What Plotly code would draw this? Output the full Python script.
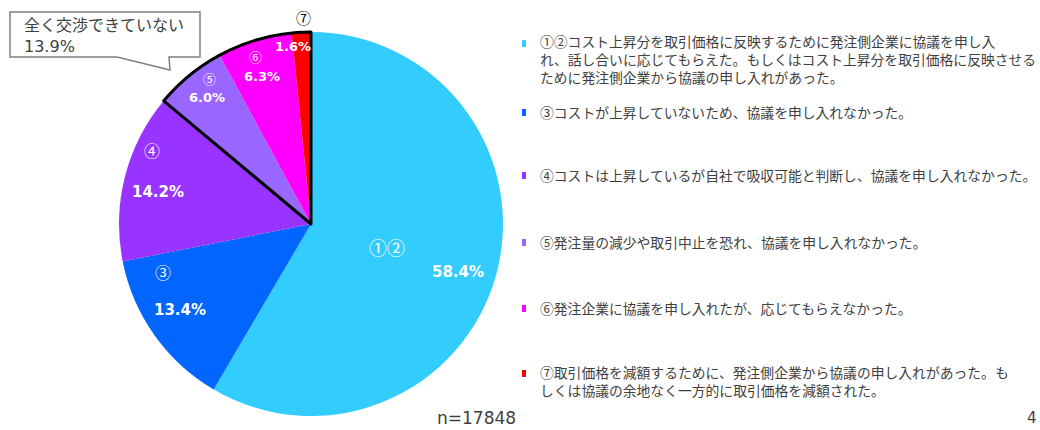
import plotly.graph_objects as go

# ---- data -------------------------------------------------------------
categories = ["①②", "③", "④", "⑤", "⑥", "⑦"]
shares = [58.4, 13.4, 14.2, 6.0, 6.3, 1.6]
legend_texts = [
    ["①②コスト上昇分を取引価格に反映するために発注側企業に協議を申し入",
     "れ、話し合いに応じてもらえた。もしくはコスト上昇分を取引価格に反映させる",
     "ために発注側企業から協議の申し入れがあった。"],
    ["③コストが上昇していないため、協議を申し入れなかった。"],
    ["④コストは上昇しているが自社で吸収可能と判断し、協議を申し入れなかった。"],
    ["⑤発注量の減少や取引中止を恐れ、協議を申し入れなかった。"],
    ["⑥発注企業に協議を申し入れたが、応じてもらえなかった。"],
    ["⑦取引価格を減額するために、発注側企業から協議の申し入れがあった。も",
     "しくは協議の余地なく一方的に取引価格を減額された。"],
]
no_negotiation_title = "全く交渉できていない"
no_negotiation_idx = [3, 4, 5]
sample_size = 17848
page_number = "4"

# ---- style --------------------------------------------------------------
W, H = 1040, 430
colors = ["#33CCFF", "#0066FF", "#9933FF", "#9966FF", "#FF00FF", "#FF0000"]
TEXT = "#404040"
JP = "DejaVu Sans, Noto Sans CJK JP"
CX, CY, R = 311, 224, 192          # pie centre / radius in pixels

num_pos = [(387, 247), (163, 272), (152, 150), (209, 78), (255, 56), (303, 17)]
num_size = [18, 16, 16, 13, 13, 15]
num_color = ["white"] * 5 + ["black"]
pct_pos = [(458, 272), (180, 310), (158, 192), (207, 98), (262, 77), (293, 46)]
pct_size = [15, 15, 15, 13, 13, 13]
legend_y = [43, 112, 175, 242, 308, 373]   # centre of each entry's first line
LEGEND_FONT = 13.8
LINE_STEP = 16


def px(x, y):
    return x / W, 1 - y / H


dom_x = [(CX - R) / W, (CX + R) / W]
dom_y = [1 - (CY + R) / H, 1 - (CY - R) / H]

fig = go.Figure()

# main pie
fig.add_trace(go.Pie(
    labels=categories, values=shares, sort=False, direction="clockwise",
    rotation=0, marker=dict(colors=colors, line=dict(width=0)),
    textinfo="none", hoverinfo="none", showlegend=False,
    domain=dict(x=dom_x, y=dom_y),
))

# outline around the "no negotiation at all" group
rest = sum(v for i, v in enumerate(shares) if i not in no_negotiation_idx)
group = sum(shares[i] for i in no_negotiation_idx)
fig.add_trace(go.Pie(
    labels=["other", "group"], values=[rest, group], sort=False,
    direction="clockwise", rotation=0,
    marker=dict(colors=["rgba(0,0,0,0)", "rgba(0,0,0,0)"],
                line=dict(color=["rgba(0,0,0,0)", "#000000"], width=[0, 3])),
    textinfo="none", hoverinfo="none", showlegend=False,
    domain=dict(x=dom_x, y=dom_y),
))

annotations = []
shapes = []

# slice labels
for i, cat in enumerate(categories):
    x, y = px(*num_pos[i])
    annotations.append(dict(
        x=x, y=y, xref="paper", yref="paper", text=cat, showarrow=False,
        xanchor="center", yanchor="middle",
        font=dict(family="Noto Sans CJK JP", size=num_size[i], color=num_color[i]),
    ))
    x, y = px(*pct_pos[i])
    annotations.append(dict(
        x=x, y=y, xref="paper", yref="paper", text=f"<b>{shares[i]:.1f}%</b>",
        showarrow=False, xanchor="center", yanchor="middle",
        font=dict(family="DejaVu Sans", size=pct_size[i], color="white"),
    ))

# callout bubble
bubble = [(10, 12), (200, 12), (200, 57), (169, 57), (170, 70), (117, 57), (10, 57)]
path = "M " + " L ".join(f"{px(a, b)[0]:.5f},{px(a, b)[1]:.5f}" for a, b in bubble) + " Z"
shapes.append(dict(type="path", path=path, xref="paper", yref="paper",
                   line=dict(color="#808080", width=1.5), fillcolor="white"))
x, y = px(22, 36)
annotations.append(dict(
    x=x, y=y, xref="paper", yref="paper",
    text=f"{no_negotiation_title}<br>{group:.1f}%", showarrow=False,
    xanchor="left", yanchor="middle", align="left",
    font=dict(family=JP, size=16, color=TEXT),
))

# legend
for i, lines in enumerate(legend_texts):
    y0 = legend_y[i]
    x0, y0p = px(522, y0 - 3)
    x1, y1p = px(526, y0 + 4)
    shapes.append(dict(type="rect", xref="paper", yref="paper",
                       x0=x0, x1=x1, y0=y1p, y1=y0p,
                       fillcolor=colors[i], line=dict(width=0)))
    yc = y0 + (len(lines) - 1) * LINE_STEP / 2
    x, y = px(538, yc)
    annotations.append(dict(
        x=x, y=y, xref="paper", yref="paper", text="<br>".join(lines),
        showarrow=False, xanchor="left", yanchor="middle", align="left",
        font=dict(family="Noto Sans CJK JP", size=LEGEND_FONT, color=TEXT),
    ))

# sample size and page number
x, y = px(476, 418)
annotations.append(dict(x=x, y=y, xref="paper", yref="paper", text=f"n={sample_size}",
                        showarrow=False, xanchor="center", yanchor="middle",
                        font=dict(family="DejaVu Sans", size=17, color=TEXT)))
x, y = px(1032, 418)
annotations.append(dict(x=x, y=y, xref="paper", yref="paper", text=page_number,
                        showarrow=False, xanchor="center", yanchor="middle",
                        font=dict(family="DejaVu Sans", size=15, color=TEXT)))

fig.update_layout(
    width=W, height=H, margin=dict(l=0, r=0, t=0, b=0),
    paper_bgcolor="white", plot_bgcolor="white",
    annotations=annotations, shapes=shapes,
)

fig.write_html("out.html")
